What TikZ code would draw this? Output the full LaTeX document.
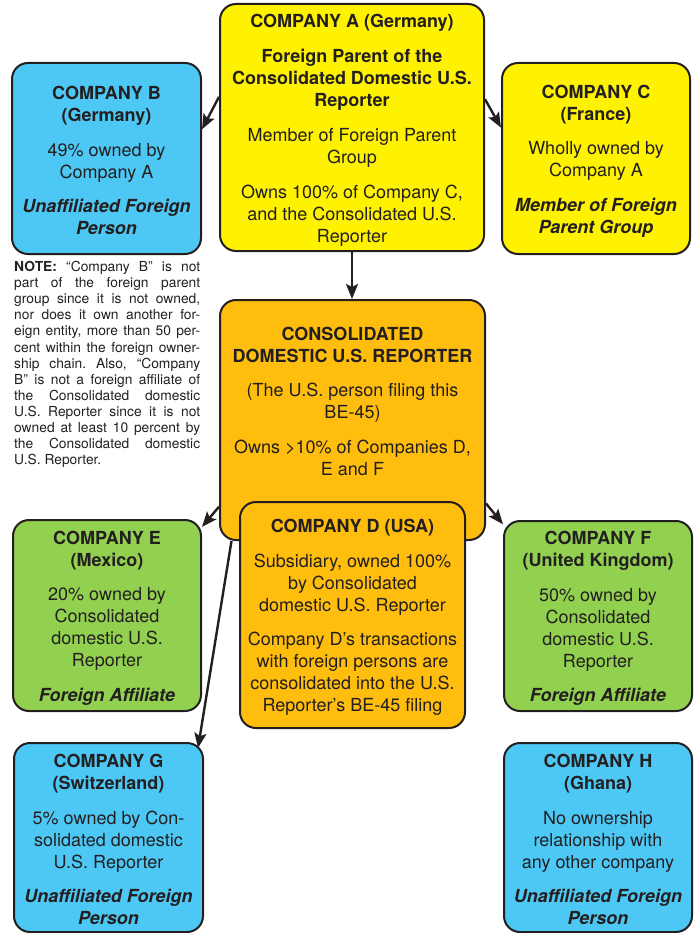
\documentclass[tikz,border=0pt]{standalone}
\usepackage{fontspec}
\setmainfont{TeX Gyre Heros}
\usetikzlibrary{arrows.meta}
\definecolor{ink}{HTML}{231F20}
\definecolor{cyellow}{HTML}{FFF200}
\definecolor{cblue}{HTML}{4DC8F4}
\definecolor{corange}{HTML}{FFBE0E}
\definecolor{cgreen}{HTML}{92D050}
\newcommand{\bl}[1]{\textbf{#1}}
\newcommand{\bi}[1]{\textbf{\textit{#1}}}
\newcommand{\tp}{\rule{0pt}{18pt}}
\begin{document}
\begin{tikzpicture}[x=1pt,y=-1pt,
  box/.style={draw=ink, line width=2pt, rounded corners=16pt, inner sep=0pt,
    align=center, text=ink, font=\fontsize{18}{22}\selectfont},
  txt/.style={inner sep=0pt, align=center, text=ink, font=\fontsize{18}{22}\selectfont},
  note/.style={inner sep=0pt, text width=186pt, align=justify, text=ink,
    font=\fontsize{13.8}{16.1}\selectfont\frenchspacing},
  arr/.style={draw=ink, line width=2.4pt, -{Stealth[length=15pt,width=12pt,inset=3pt]}},
]
\useasboundingbox (0,0) rectangle (697,933);

% Company A
\node[box, fill=cyellow, minimum width=264pt, minimum height=247pt] (A) at (352,127.5)
 {\tp\bl{COMPANY A (Germany)}\\[13pt]
  \bl{Foreign Parent of the}\\ \bl{Consolidated Domestic U.S.}\\ \bl{Reporter}\\[13pt]
  Member of Foreign Parent\\ Group\\[13pt]
  Owns 100\% of Company C,\\ and the Consolidated U.S.\\ Reporter};

% Company B
\node[box, fill=cblue, minimum width=189pt, minimum height=191pt] (B) at (106.5,158.5)
 {\tp\bl{COMPANY B}\\ \bl{(Germany)}\\[12.5pt]
  49\% owned by\\ Company A\\[12.5pt]
  \bi{Unaffiliated Foreign}\\ \bi{Person}};

% Company C
\node[box, fill=cyellow, minimum width=188pt, minimum height=191pt] (C) at (596,158.5)
 {\tp\bl{COMPANY C}\\ \bl{(France)}\\[12.5pt]
  Wholly owned by\\ Company A\\[12.5pt]
  \bi{Member of Foreign}\\ \bi{Parent Group}};

% Note
\node[note, anchor=north west] (N) at (14,261)
 {\textbf{NOTE:} “Company B” is not\linebreak
  part of the foreign parent\linebreak
  group since it is not owned,\linebreak
  nor does it own another for-\linebreak
  eign entity, more than 50 per-\linebreak
  cent within the foreign owner-\linebreak
  ship chain. Also, “Company\linebreak
  B” is not a foreign affiliate of\linebreak
  the Consolidated domestic\linebreak
  U.S. Reporter since it is not\linebreak
  owned at least 10 percent by\linebreak
  the Consolidated domestic\linebreak
  U.S. Reporter.};

% Consolidated reporter
\node[box, fill=corange, minimum width=265pt, minimum height=240pt] (R) at (352.5,420) {};
\node[txt] (RT) at (352.5,401)
 {\bl{CONSOLIDATED}\\ \bl{DOMESTIC U.S. REPORTER}\\[12.5pt]
  (The U.S. person filing this\\ {BE-45)}\\[12.5pt]
  Owns >10\% of Companies D,\\ E and F};

% Company D
\node[box, fill=corange, minimum width=225pt, minimum height=226pt] (D) at (352.5,615)
 {\tp\bl{COMPANY D (USA)}\\[12.5pt]
  Subsidiary, owned 100\%\\ by Consolidated\\ domestic U.S. Reporter\\[12.5pt]
  Company D’s transactions\\ with foreign persons are\\ consolidated into the U.S.\\ Reporter’s BE-45 filing};

% Company E
\node[box, fill=cgreen, minimum width=188pt, minimum height=191pt] (E) at (107,615.5)
 {\tp\bl{COMPANY E}\\ \bl{(Mexico)}\\[12.5pt]
  20\% owned by\\ Consolidated\\ domestic U.S.\\ Reporter\\[12.5pt]
  \bi{Foreign Affiliate}};

% Company F
\node[box, fill=cgreen, minimum width=188pt, minimum height=190pt] (F) at (598,616)
 {\tp\bl{COMPANY F}\\ \bl{(United Kingdom)}\\[12.5pt]
  50\% owned by\\ Consolidated\\ domestic U.S.\\ Reporter\\[12.5pt]
  \bi{Foreign Affiliate}};

% Company G
\node[box, fill=cblue, minimum width=189pt, minimum height=189pt] (G) at (108.5,837.5)
 {\tp\bl{COMPANY G}\\ \bl{(Switzerland)}\\[12.5pt]
  5\% owned by Con-\\ solidated domestic\\ U.S. Reporter\\[12.5pt]
  \bi{Unaffiliated Foreign}\\ \bi{Person}};

% Company H
\node[box, fill=cblue, minimum width=188pt, minimum height=189pt] (H) at (598,837.5)
 {\tp\bl{COMPANY H}\\ \bl{(Ghana)}\\[12.5pt]
  No ownership\\ relationship with\\ any other company\\[12.5pt]
  \bi{Unaffiliated Foreign}\\ \bi{Person}};

% Connectors
\coordinate (Gtip) at (198,748);
\draw[arr] (A.167.4) -- (B.17.5);
\draw[arr] (A.12.6) -- (C.162.5);
\draw[arr] (A.south) -- (A.south |- R.north);
\draw[arr] (R.213.2) -- (E.43.6);
\draw[arr] (R.-32.8) -- (F.136.6);
\draw[arr] (R.225) -- (Gtip);
\end{tikzpicture}
\end{document}
